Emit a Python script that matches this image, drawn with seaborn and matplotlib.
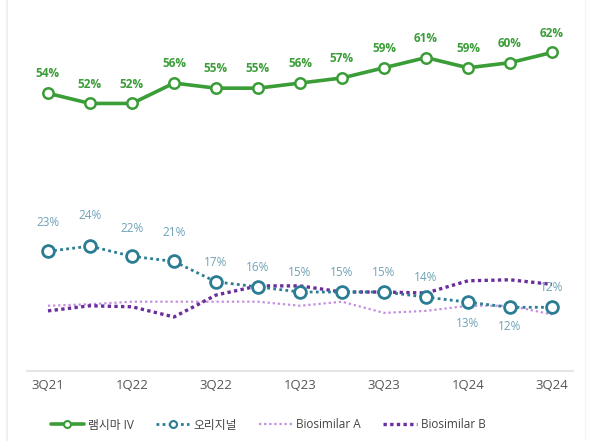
import pandas as pd
import matplotlib.pyplot as plt
import seaborn as sns
from matplotlib.lines import Line2D

quarters = ['3Q21', '4Q21', '1Q22', '2Q22', '3Q22', '4Q22', '1Q23', '2Q23', '3Q23', '4Q23', '1Q24', '2Q24', '3Q24']
remsima = [54, 52, 52, 56, 55, 55, 56, 57, 59, 61, 59, 60, 62]
original = [23, 24, 22, 21, 17, 16, 15, 15, 15, 14, 13, 12, 12]
bio_a = [12.3, 12.6, 13.1, 13.1, 13.1, 13.1, 12.3, 13.1, 10.9, 11.3, 12.3, 12.3, 10.6]
bio_b = [11.3, 12.3, 12.1, 10.1, 14.4, 16.2, 16.2, 15.0, 15.0, 14.8, 17.2, 17.4, 16.5]

df = pd.DataFrame({'x': range(len(quarters)), 'remsima': remsima, 'original': original,
                   'bio_a': bio_a, 'bio_b': bio_b})

sns.set_style('white')
plt.rcParams['font.family'] = ['Open Sans', 'Noto Sans CJK KR', 'DejaVu Sans']

green = '#3a9d37'
teal = '#2b7d93'
teal_lbl = '#6ea3b8'
light_purple = '#c48de0'
dark_purple = '#6b2c9c'

fig = plt.figure(figsize=(5.92, 4.41), dpi=100)
ax = fig.add_axes([27 / 592, 70 / 441, 546 / 592, 371 / 441])

sns.lineplot(data=df, x='x', y='bio_a', ax=ax, color=light_purple, lw=1.6,
             linestyle=(0, (1, 1.3)), label='Biosimilar A')
sns.lineplot(data=df, x='x', y='bio_b', ax=ax, color=dark_purple, lw=2.4,
             linestyle=(0, (1, 1)), label='Biosimilar B')
sns.lineplot(data=df, x='x', y='original', ax=ax, color=teal, lw=2.0,
             linestyle=(0, (1, 1.2)), marker='o', markersize=8.5, markerfacecolor='white',
             markeredgecolor=teal, markeredgewidth=2.0, label='오리지널')
sns.lineplot(data=df, x='x', y='remsima', ax=ax, color=green, lw=2.6,
             marker='o', markersize=7.5, markerfacecolor='white',
             markeredgecolor=green, markeredgewidth=1.8, label='램시마 IV')

# value labels
for i, v in enumerate(remsima):
    ax.annotate(f'{v}%', (i, v), xytext=(0, 14), textcoords='offset points',
                ha='center', va='center', fontsize=8.5, fontweight='bold', color=green)

orig_off = [21, 22, 20, 21, 14, 14, 14, 14, 14, 14, -15, -14, 14]
for i, v in enumerate(original):
    ax.annotate(f'{v}%', (i, v), xytext=(0, orig_off[i]), textcoords='offset points',
                ha='center', va='center', fontsize=8.5, color=teal_lbl, zorder=5)

ax.set_xlim(-0.5, 12.5)
ax.set_ylim(-0.5, 72.3)
ax.set_xticks(range(0, len(quarters), 2))
ax.set_xticklabels(quarters[::2], fontsize=9.5, color='#555555')
ax.tick_params(axis='x', length=0, pad=6)
ax.set_yticks([])
ax.set_xlabel('')
ax.set_ylabel('')
for s in ['top', 'left', 'right']:
    ax.spines[s].set_visible(False)
ax.spines['bottom'].set_color('#e6e6e6')
ax.spines['bottom'].set_linewidth(1.5)
ax.get_legend().remove()

handles = [
    Line2D([], [], color=green, lw=2.6, marker='o', markersize=5, markerfacecolor='white',
           markeredgecolor=green, markeredgewidth=1.5),
    Line2D([], [], color=teal, lw=2.0, linestyle=(0, (1, 1.2)), marker='o', markersize=5,
           markerfacecolor='white', markeredgecolor=teal, markeredgewidth=1.5),
    Line2D([], [], color=light_purple, lw=1.6, linestyle=(0, (1, 1.3))),
    Line2D([], [], color=dark_purple, lw=2.4, linestyle=(0, (1, 1))),
]
labels = ['램시마 IV', '오리지널', 'Biosimilar A', 'Biosimilar B']
fig.legend(handles, labels, loc='center', bbox_to_anchor=(268 / 592, 16 / 441), ncol=4,
           frameon=False, fontsize=8.5, handlelength=2.8, columnspacing=1.9,
           handletextpad=0.35, labelcolor='#444444')

# card border
fig.add_artist(Line2D([7 / 592, 7 / 592], [0, 1], color='#f0f0f0', lw=1.5))
fig.add_artist(Line2D([585 / 592, 585 / 592], [0, 1], color='#f5f5f5', lw=1))

fig.savefig('out.png', dpi=100)
